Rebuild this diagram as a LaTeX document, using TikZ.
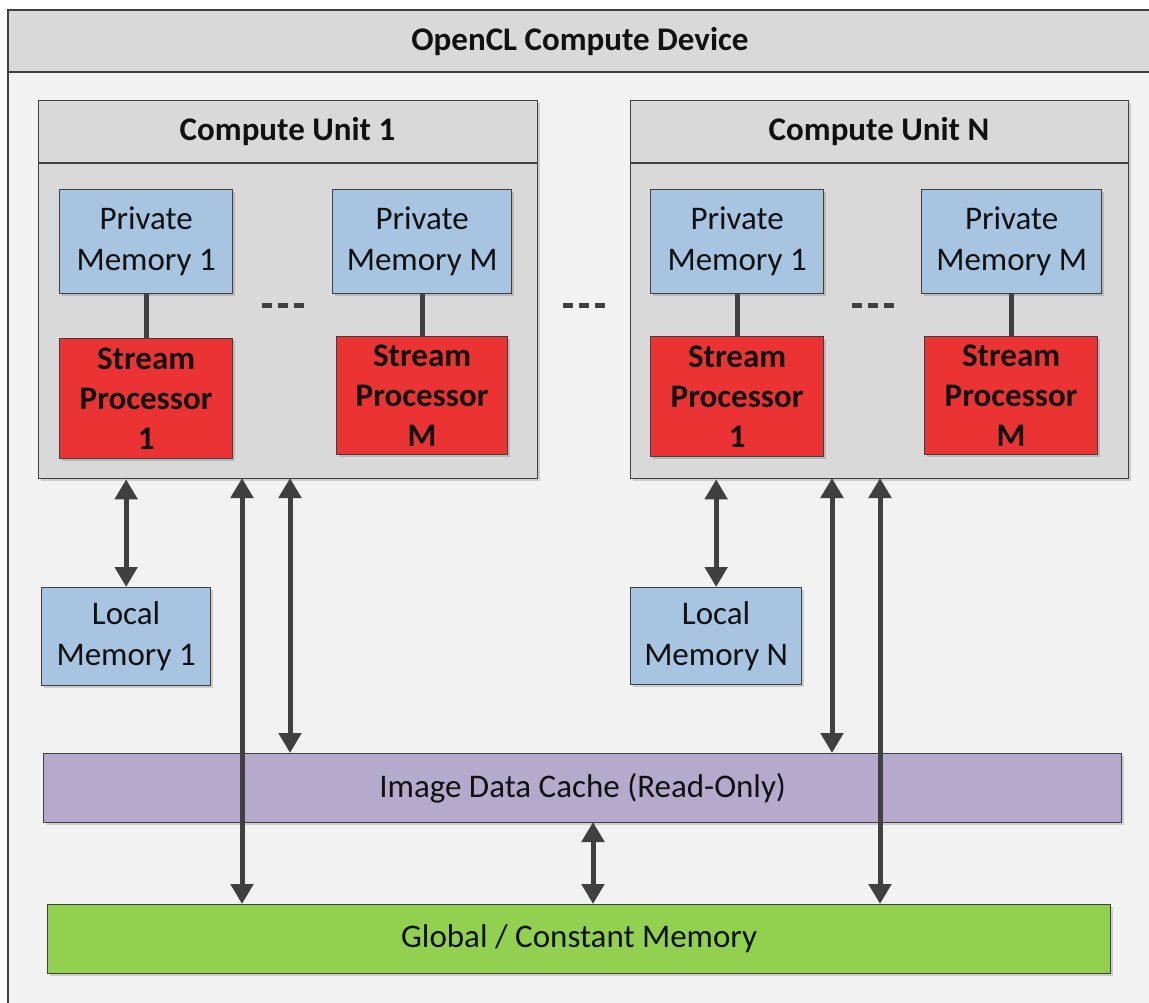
\documentclass[tikz,border=0pt]{standalone}
\usepackage{fontspec}
\setmainfont{Carlito}
\usetikzlibrary{arrows.meta,shadows}
\definecolor{hdrgray}{HTML}{D9D9D9}
\definecolor{bodygray}{HTML}{F2F2F2}
\definecolor{cugray}{HTML}{D9D9D9}
\definecolor{memblue}{HTML}{A7C4E0}
\definecolor{spred}{HTML}{EC3333}
\definecolor{cachepurple}{HTML}{B5AACB}
\definecolor{globgreen}{HTML}{92D050}
\definecolor{linegray}{HTML}{404040}
\definecolor{txt}{HTML}{111111}
\begin{document}
\begin{tikzpicture}[x=1pt,y=-1pt,
  txtfont/.style={font=\fontsize{33}{41}\selectfont, text=txt},
  boldfont/.style={font=\fontsize{33}{40}\selectfont\bfseries, text=txt},
  shad/.style={drop shadow={shadow xshift=2pt,shadow yshift=-2pt,opacity=0.15,fill=black}},
  membox/.style={draw=linegray, line width=1.3pt, fill=memblue, anchor=north west, align=center, inner sep=0pt, txtfont, shad},
  spbox/.style={draw=linegray, line width=1.3pt, fill=spred, anchor=north west, align=center, inner sep=0pt, boldfont, shad},
  wide/.style={draw=linegray, line width=1.3pt, anchor=north west, align=center, inner sep=0pt, txtfont, shad},
  cubox/.style={draw=linegray, line width=1.3pt, fill=cugray, anchor=north west, inner sep=0pt, shad},
  link/.style={draw=linegray, line width=5pt},
  arr/.style={draw=linegray, line width=5pt, {Triangle[width=22pt,length=20pt]}-{Triangle[width=22pt,length=20pt]}},
  dots/.style={draw=linegray, line width=5pt, dash pattern=on 10pt off 6pt}
]
\useasboundingbox (0,0) rectangle (1149,1002);
\clip (0,0) rectangle (1149,1002);
\fill[white] (0,0) rectangle (1149,1002);

% outer device
\node[draw=linegray, line width=1.3pt, fill=bodygray, anchor=north west, minimum width=1170pt, minimum height=1020pt, inner sep=0pt] (dev) at (8,10) {};
\fill[hdrgray] (8,10) rectangle (1180,72);
\draw[linegray, line width=1.3pt] (8,72) -- (1180,72);
\draw[linegray, line width=1.3pt] (8,1030) -- (8,10) -- (1180,10);
\node[boldfont] (devtitle) at (580,42) {OpenCL Compute Device};

% compute unit 1
\node[cubox, minimum width=499pt, minimum height=378pt] (cu1) at (38,100) {};
\draw[linegray, line width=1.3pt] (38,163) -- (537,163);
\node[boldfont] (cu1t) at (287.5,131.5) {Compute Unit 1};

% compute unit N
\node[cubox, minimum width=498pt, minimum height=378pt] (cun) at (630,100) {};
\draw[linegray, line width=1.3pt] (630,163) -- (1128,163);
\node[boldfont] (cunt) at (879,131.5) {Compute Unit N};

% CU1 contents
\node[membox, minimum width=173pt, minimum height=104pt] (pm11) at (59,189) {Private\\Memory 1};
\node[membox, minimum width=179pt, minimum height=104pt] (pm1m) at (332,189) {Private\\Memory M};
\node[spbox, minimum width=173pt, minimum height=120pt] (sp11) at (59,338) {Stream\\Processor\\1};
\node[spbox, minimum width=171pt, minimum height=118pt] (sp1m) at (336,336) {Stream\\Processor\\M};
\draw[link] (pm11.south) -- (pm11.south |- sp11.north);
\draw[link] (pm1m.south) -- (pm1m.south |- sp1m.north);
\coordinate (d1a) at (262,305.5);
\coordinate (d1b) at (304,305.5);
\draw[dots] (d1a) -- (d1b);

% middle dots
\coordinate (d2a) at (563,305.5);
\coordinate (d2b) at (605,305.5);
\draw[dots] (d2a) -- (d2b);

% CUN contents
\node[membox, minimum width=173pt, minimum height=104pt] (pmn1) at (650,189) {Private\\Memory 1};
\node[membox, minimum width=180pt, minimum height=104pt] (pmnm) at (921,189) {Private\\Memory M};
\node[spbox, minimum width=173pt, minimum height=120pt] (spn1) at (650,336) {Stream\\Processor\\1};
\node[spbox, minimum width=173pt, minimum height=118pt] (spnm) at (924,336) {Stream\\Processor\\M};
\draw[link] (pmn1.south) -- (pmn1.south |- spn1.north);
\draw[link] (pmnm.south) -- (pmnm.south |- spnm.north);
\coordinate (d3a) at (852,305.5);
\coordinate (d3b) at (894,305.5);
\draw[dots] (d3a) -- (d3b);

% local memories
\node[membox, minimum width=169pt, minimum height=98pt] (loc1) at (41,587) {Local\\Memory 1};
\node[membox, minimum width=171pt, minimum height=97pt] (locn) at (630,587) {Local\\Memory N};

% cache and global
\node[wide, fill=cachepurple, minimum width=1078pt, minimum height=69pt] (cache) at (43,753) {Image Data Cache (Read-Only)};
\node[wide, fill=globgreen, minimum width=1063pt, minimum height=69pt] (glob) at (47,904) {Global / Constant Memory};

% arrows
\draw[arr] (loc1.north |- cu1.south) -- (loc1.north);
\draw[arr] (locn.north |- cun.south) -- (locn.north);
\coordinate (a1) at (242,478);
\coordinate (a2) at (290,478);
\coordinate (a3) at (832,478);
\coordinate (a4) at (880,478);
\coordinate (a5) at (593,822);
\draw[arr] (a1) -- (a1 |- glob.north);
\draw[arr] (a2) -- (a2 |- cache.north);
\draw[arr] (a3) -- (a3 |- cache.north);
\draw[arr] (a4) -- (a4 |- glob.north);
\draw[arr] (a5) -- (a5 |- glob.north);
\end{tikzpicture}
\end{document}
